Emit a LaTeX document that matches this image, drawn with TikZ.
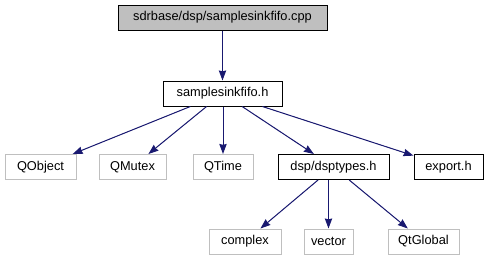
\documentclass[tikz,border=0pt]{standalone}
\usepackage{fontspec}
\setmainfont{Liberation Sans}
\usetikzlibrary{arrows.meta}
\usetikzlibrary{positioning}

\definecolor{edgeblue}{HTML}{191970}
\definecolor{sysgray}{HTML}{BFBFBF}

\begin{document}
\begin{tikzpicture}[x=0.75pt,y=-0.75pt,
  every node/.style={font=\fontsize{9.6}{11}\selectfont,inner sep=0pt,minimum height=18.75pt},
  filebox/.style={draw=black,line width=0.75pt},
  rootbox/.style={filebox,fill=sysgray},
  sysbox/.style={draw=sysgray,line width=0.75pt},
  dep/.style={draw=edgeblue,line width=0.75pt,-{Stealth[length=7.5pt,width=5.5pt,inset=0.6pt]},fill=edgeblue}]

\useasboundingbox (0,0) rectangle (489,261);

\node[rootbox,minimum width=156.75pt] (fifo cpp) at (222.5,17.5) {sdrbase/dsp/samplesinkfifo.cpp};
\node[filebox,minimum width=89.25pt] (fifo h) at (222.5,93.5) {samplesinkfifo.h};

\node[sysbox,minimum width=53.25pt] (qobject) at (40.5,167) {QObject};
\node[sysbox,minimum width=50.25pt] (qmutex) at (132.5,167) {QMutex};
\node[sysbox,minimum width=45pt] (qtime) at (223,167) {QTime};
\node[filebox,minimum width=83.25pt] (dsptypes) at (333.5,167) {dsp/dsptypes.h};
\node[filebox,minimum width=51.75pt] (export) at (448.5,167) {export.h};

\node[sysbox,minimum width=54pt] (complex) at (245,241.5) {complex};
\node[sysbox,minimum width=36.75pt] (vector) at (328.5,241.5) {vector};
\node[sysbox,minimum width=53.25pt] (qtglobal) at (423.5,241.5) {QtGlobal};

\draw[dep] (fifo cpp) -- (fifo h);
\draw[dep] (fifo h) -- (qobject);
\draw[dep] (fifo h) -- (qmutex);
\draw[dep] (fifo h.south -| qtime) -- (qtime);
\draw[dep] (fifo h) -- (dsptypes);
\draw[dep] (fifo h) -- (export);
%\draw[dep] (dsptypes) -- (export);

\draw[dep] (dsptypes) -- (complex);
\draw[dep] (dsptypes.south -| vector) -- (vector);
\draw[dep] (dsptypes) -- (qtglobal);
\end{tikzpicture}
\end{document}
